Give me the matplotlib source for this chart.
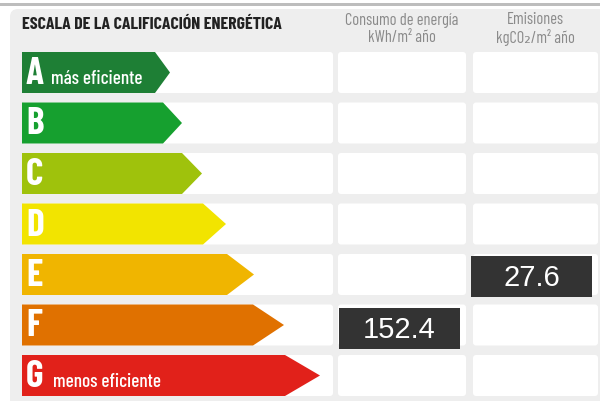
import matplotlib
matplotlib.use("Agg")
import matplotlib.pyplot as plt
from matplotlib.patches import Polygon, FancyBboxPatch, Rectangle

# Energy classes and their colours
classes = ["A", "B", "C", "D", "E", "F", "G"]
class_colors = ["#1e7f35", "#16a02f", "#9fc20c", "#f2e400", "#f0b500", "#e07100", "#e1211a"]
class_notes = {"A": "más eficiente", "G": "menos eficiente"}

# Ratings for this property
consumo_value = 152.4
consumo_class = "F"
emisiones_value = 27.6
emisiones_class = "E"

title = "ESCALA DE LA CALIFICACIÓN ENERGÉTICA"
col_headers = [("Consumo de energía", "kWh/m² año"), ("Emisiones", "kgCO₂/m² año")]

# layout (pixels)
W, H = 600, 401
row_top0, row_pitch, row_h = 52, 50.5, 41
bar_x0 = 22
bar_end = [155, 163, 182, 203, 227, 253, 285]
bar_tip = [170, 182, 202, 226, 254, 284, 320]
cols = [(338, 466), (473, 598)]

narrow = ["Barlow Condensed", "DejaVu Sans"]

fig = plt.figure(figsize=(W / 100, H / 100), dpi=100)
ax = fig.add_axes([0, 0, 1, 1])
ax.set_xlim(0, W)
ax.set_ylim(H, 0)
ax.axis("off")

# top line and panel
ax.add_patch(Rectangle((0, 3), W, 2.5, color="#bdbdbd", lw=0))
ax.add_patch(FancyBboxPatch((10, 9), W + 20, H, boxstyle="round,pad=0,rounding_size=8",
                            fc="#eeeeee", ec="none"))

ax.text(bar_x0, 24, title, fontsize=12.8, fontweight="bold", family=narrow,
        color="#222222", va="center", ha="left")

for (x0, x1), (h1, h2) in zip(cols, col_headers):
    cx = (x0 + x1) / 2
    ax.text(cx, 20, h1, fontsize=11.8, family=narrow, color="#8a8a8a", ha="center", va="center")
    ax.text(cx, 37, h2, fontsize=11.8, family=narrow, color="#8a8a8a", ha="center", va="center")

for i, (c, col) in enumerate(zip(classes, class_colors)):
    top = row_top0 + i * row_pitch
    bot = top + row_h
    mid = (top + bot) / 2
    # white backgrounds
    ax.add_patch(FancyBboxPatch((bar_x0, top), 333 - bar_x0, row_h,
                                boxstyle="round,pad=0,rounding_size=3", fc="white", ec="none"))
    for x0, x1 in cols:
        ax.add_patch(FancyBboxPatch((x0, top), x1 - x0, row_h,
                                    boxstyle="round,pad=0,rounding_size=3", fc="white", ec="none"))
    # arrow
    ax.add_patch(Polygon([(bar_x0, top), (bar_end[i], top), (bar_tip[i], mid),
                          (bar_end[i], bot), (bar_x0, bot)], closed=True, fc=col, ec="none"))
    ax.text(26, bot - 9, c, fontsize=27, fontweight="bold", family=narrow, color="white",
            ha="left", va="baseline")
    if c in class_notes:
        ax.text(51 if c == "A" else 53, bot - 9, class_notes[c], fontsize=13.8, fontweight=500,
                family=narrow, color="white", ha="left", va="baseline")


def value_box(cls, value, x0, x1, dy):
    i = classes.index(cls)
    top = row_top0 + i * row_pitch + dy
    ax.add_patch(Rectangle((x0, top), x1 - x0, row_h, fc="#333333", ec="none"))
    ax.text((x0 + x1) / 2, top + row_h / 2 + 1, f"{value:.1f}", fontsize=21,
            family="Liberation Sans", color="white", ha="center", va="center")


value_box(consumo_class, consumo_value, 339, 460, 3.5)
value_box(emisiones_class, emisiones_value, 471, 592, 2)

fig.savefig("out.png", dpi=100)
